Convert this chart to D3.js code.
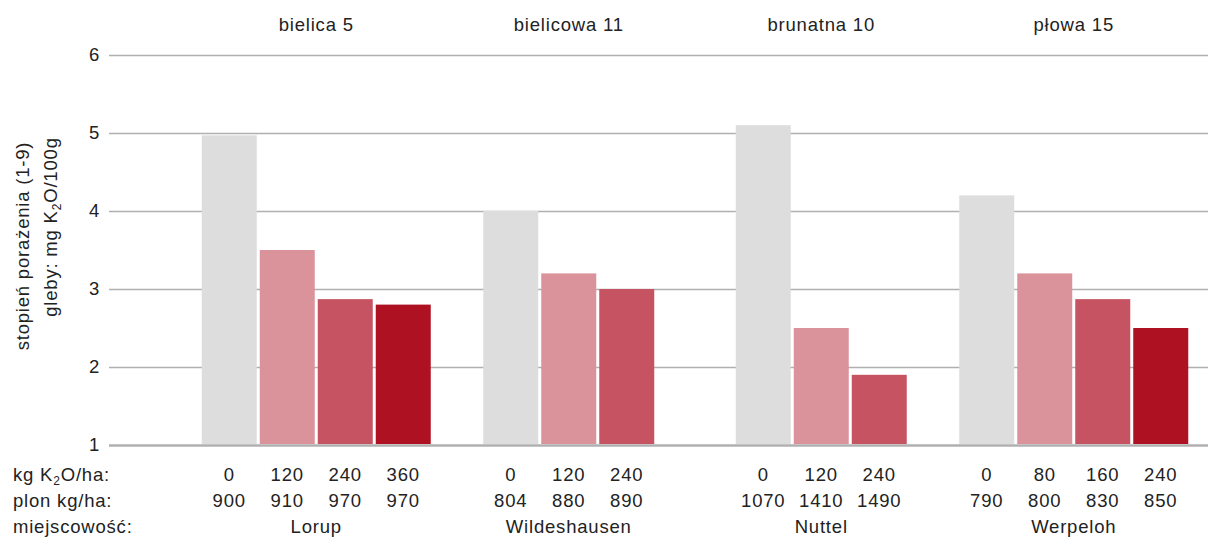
<!DOCTYPE html>
<html>
<head>
<meta charset="utf-8">
<script src="https://cdn.jsdelivr.net/npm/d3@7"></script>
<style>
  body { margin: 0; background: #fff; }
  svg { font-family: "Liberation Sans", Arial, sans-serif; }
  svg text { letter-spacing: 0.8px; }
</style>
</head>
<body>
<div id="chart"></div>
<script>
// soil types (top) and locations (bottom row)
var soils = ["bielica 5", "bielicowa 11", "brunatna 10", "płowa 15"];
var places = ["Lorup", "Wildeshausen", "Nuttel", "Werpeloh"];
// kg K2O/ha per bar
var doses = [[0, 120, 240, 360], [0, 120, 240], [0, 120, 240], [0, 80, 160, 240]];
// plon kg/ha per bar
var yields = [[900, 910, 970, 970], [804, 880, 890], [1070, 1410, 1490], [790, 800, 830, 850]];
// stopień porażenia (1-9)
var scores = [[4.97, 3.5, 2.87, 2.8], [4.0, 3.2, 3.0], [5.1, 2.5, 1.9], [4.2, 3.2, 2.87, 2.5]];
var yTicks = [1, 2, 3, 4, 5, 6];
var colors = ["#dddddd", "#db939b", "#c55362", "#ae1122"];

var width = 1208, height = 538;
var plotLeft = 109, plotRight = 1208, plotTop = 55, plotBottom = 445;
var barStep = 58, barWidth = 55;
var fs = 18.5;
var rowY = [481, 507, 533];

var svg = d3.select("#chart").append("svg")
    .attr("width", width)
    .attr("height", height);

var y = d3.scaleLinear().domain([1, 6]).range([plotBottom, plotTop]);
var x = d3.scaleBand().domain(soils).range([190, 1200]);

// grid + tick labels
var yAxis = svg.append("g")
    .attr("transform", "translate(" + plotLeft + ",0)")
    .call(d3.axisLeft(y).tickValues(yTicks).tickSize(-(plotRight - plotLeft)).tickPadding(9).tickFormat(d3.format("d")));
yAxis.select(".domain").remove();
yAxis.selectAll(".tick line")
    .attr("stroke", "#b0b0b0")
    .attr("stroke-width", function (d) { return d === 1 ? 2.5 : 1.5; });
yAxis.selectAll(".tick text")
    .attr("fill", "#222")
    .style("font-size", fs + "px")
    .style("font-family", "Liberation Sans, Arial, sans-serif");

// bars
var groups = svg.selectAll("g.grp")
    .data(soils)
    .enter()
    .append("g")
    .attr("class", "grp");

function barX(gi, i) {
    var n = scores[gi].length;
    var c = x(soils[gi]) + x.bandwidth() / 2;
    return c + (i - (n - 1) / 2) * barStep - barWidth / 2;
}

groups.each(function (s, gi) {
    var g = d3.select(this);
    g.selectAll("rect")
        .data(scores[gi])
        .enter()
        .append("rect")
        .attr("x", function (d, i) { return barX(gi, i); })
        .attr("y", function (d) { return y(d); })
        .attr("width", barWidth)
        .attr("height", function (d) { return y(1) - y(d) - 1; })
        .attr("fill", function (d, i) { return colors[i]; });

    // soil label on top
    g.append("text")
        .attr("x", x(s) + x.bandwidth() / 2)
        .attr("y", 31)
        .attr("text-anchor", "middle")
        .attr("font-size", fs)
        .attr("fill", "#222")
        .text(s);

    // table rows
    g.selectAll("text.dose")
        .data(doses[gi])
        .enter()
        .append("text")
        .attr("class", "dose")
        .attr("x", function (d, i) { return barX(gi, i) + barWidth / 2; })
        .attr("y", rowY[0])
        .attr("text-anchor", "middle")
        .attr("font-size", fs)
        .attr("fill", "#222")
        .text(function (d) { return d; });

    g.selectAll("text.yield")
        .data(yields[gi])
        .enter()
        .append("text")
        .attr("class", "yield")
        .attr("x", function (d, i) { return barX(gi, i) + barWidth / 2; })
        .attr("y", rowY[1])
        .attr("text-anchor", "middle")
        .attr("font-size", fs)
        .attr("fill", "#222")
        .text(function (d) { return d; });

    g.append("text")
        .attr("x", x(s) + x.bandwidth() / 2)
        .attr("y", rowY[2])
        .attr("text-anchor", "middle")
        .attr("font-size", fs)
        .attr("fill", "#222")
        .text(places[gi]);
});

// row labels
var rowLab = svg.append("g").attr("font-size", fs).attr("fill", "#222");
var k = rowLab.append("text").attr("x", 13).attr("y", rowY[0]);
k.append("tspan").text("kg K");
k.append("tspan").attr("font-size", 12).attr("dy", 4).text("2");
k.append("tspan").attr("dy", -4).text("O/ha:");
rowLab.append("text").attr("x", 13).attr("y", rowY[1]).text("plon kg/ha:");
rowLab.append("text").attr("x", 13).attr("y", rowY[2]).text("miejscowość:");

// y titles
svg.append("text")
    .attr("transform", "translate(29,246) rotate(-90)")
    .attr("text-anchor", "middle")
    .attr("font-size", fs)
    .attr("fill", "#222")
    .text("stopień porażenia (1-9)");

var t2 = svg.append("text")
    .attr("transform", "translate(57,227) rotate(-90)")
    .attr("text-anchor", "middle")
    .attr("font-size", fs)
    .attr("fill", "#222");
t2.append("tspan").text("gleby: mg K");
t2.append("tspan").attr("font-size", 12).attr("dy", 4).text("2");
t2.append("tspan").attr("dy", -4).text("O/100g");
</script>
</body>
</html>
